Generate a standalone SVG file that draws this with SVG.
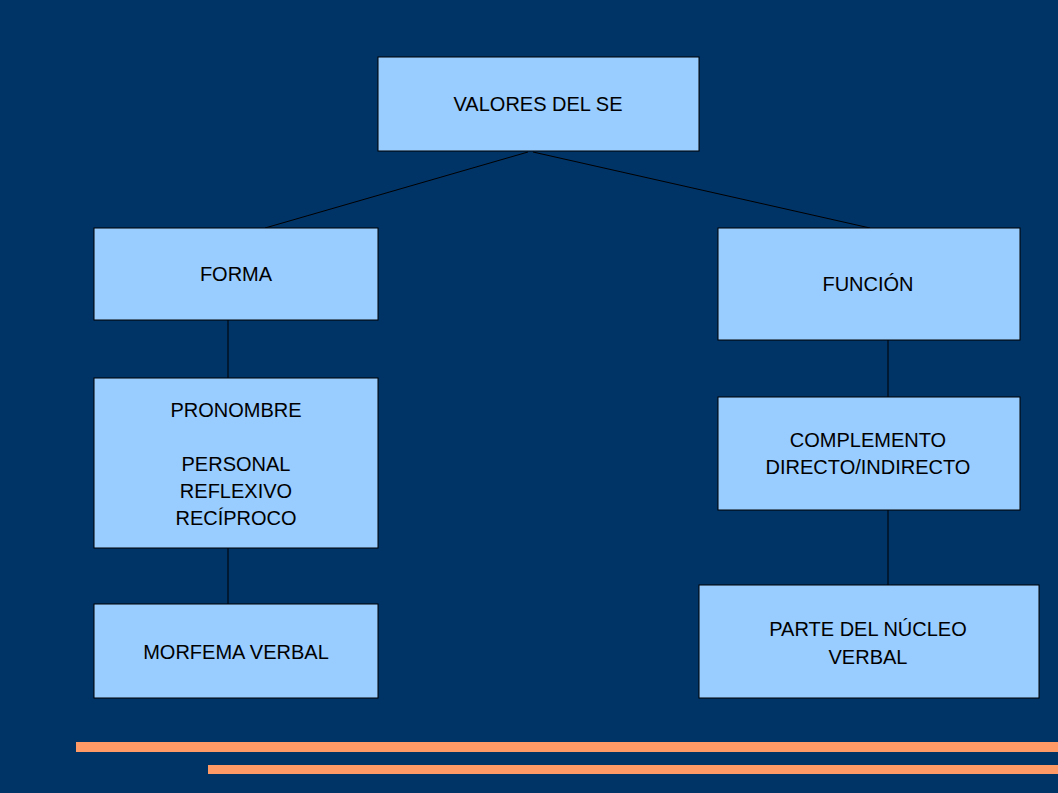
<svg xmlns="http://www.w3.org/2000/svg" width="1058" height="793" viewBox="0 0 1058 793">
<style>
.b{fill:#99ccff;stroke:#000;stroke-width:1}
text{font-family:"Liberation Sans",Arial,sans-serif;font-size:20px;fill:#000;text-anchor:middle}
.c line{stroke:#000;stroke-width:1}
</style>
<rect width="1058" height="793" fill="#003366"/>
<rect x="76" y="742" width="982" height="10" fill="#ff9966"/>
<rect x="208" y="765" width="850" height="9" fill="#ff9966"/>
<g class="c">
<line x1="528" y1="152" x2="265" y2="228"/>
<line x1="533" y1="152" x2="870" y2="228"/>
<line x1="228" y1="320" x2="228" y2="378"/>
<line x1="228" y1="548" x2="228" y2="604"/>
<line x1="888" y1="340" x2="888" y2="397"/>
<line x1="888" y1="510" x2="888" y2="585"/>
</g>
<g id="valores"><rect class="b" x="378" y="57" width="321" height="94"/><text x="538" y="111">VALORES DEL SE</text></g>
<g id="forma"><rect class="b" x="94" y="228" width="284" height="92"/><text x="236" y="281">FORMA</text></g>
<g id="funcion"><rect class="b" x="718" y="228" width="302" height="112"/><text x="868" y="291">FUNCIÓN</text></g>
<g id="pronombre"><rect class="b" x="94" y="378" width="284" height="170"/><text x="236" y="417">PRONOMBRE</text><text x="236" y="471">PERSONAL</text><text x="236" y="498">REFLEXIVO</text><text x="236" y="525">RECÍPROCO</text></g>
<g id="complemento"><rect class="b" x="718" y="397" width="302" height="113"/><text x="868" y="447">COMPLEMENTO</text><text x="868" y="474">DIRECTO/INDIRECTO</text></g>
<g id="morfema"><rect class="b" x="94" y="604" width="284" height="94"/><text x="236" y="659">MORFEMA VERBAL</text></g>
<g id="parte"><rect class="b" x="699" y="585" width="340" height="113"/><text x="868" y="636">PARTE DEL NÚCLEO</text><text x="868" y="664">VERBAL</text></g>
</svg>
